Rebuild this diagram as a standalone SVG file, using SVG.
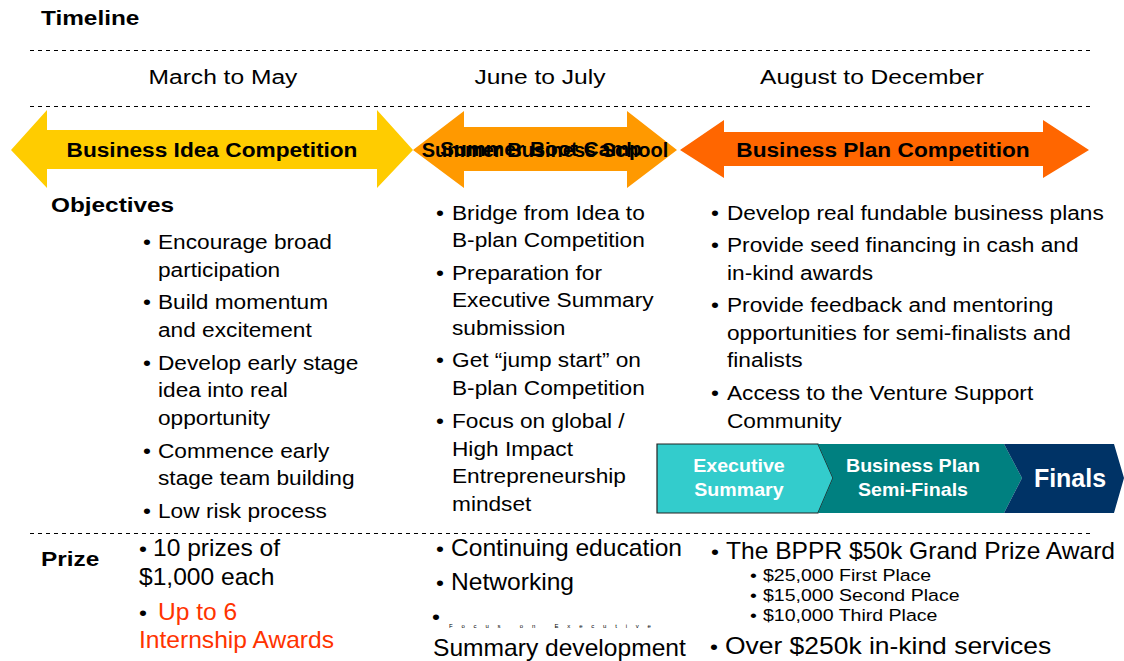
<svg xmlns="http://www.w3.org/2000/svg" width="1124" height="661" viewBox="0 0 1124 661">
<style>
text{font-family:"Liberation Sans",Arial,sans-serif;fill:#000;transform-box:fill-box;transform-origin:left center}
.h{font-weight:bold;font-size:21px;transform:scaleX(1.16)}
.m{font-size:21px;text-anchor:middle;transform:scaleX(1.17);transform-origin:center}
.b{font-size:21px;transform:scaleX(1.08)}
.p{font-size:23px;transform:scaleX(1.07)}
.s{font-size:17px;transform:scaleX(1.15)}
.al{font-weight:bold;font-size:21px;text-anchor:middle;transform:scaleX(1.08);transform-origin:center}
.sl{font-weight:bold;font-size:20px;text-anchor:middle}
.cw{font-weight:bold;font-size:18px;fill:#fff;text-anchor:middle;transform:scaleX(1.09);transform-origin:center}
.dash{stroke:#000;stroke-width:1;stroke-dasharray:4 4;fill:none}
.red{fill:#FF3300}
</style>
<rect width="1124" height="661" fill="#fff"/>
<g id="guides">
<line class="dash" x1="30" y1="50.5" x2="1090" y2="50.5"/>
<line class="dash" x1="30" y1="106.5" x2="1090" y2="106.5"/>
<line class="dash" x1="30" y1="533.5" x2="1090" y2="533.5"/>
</g>
<g id="headers">
<text class="h" x="41" y="25">Timeline</text>
<text class="m" x="223" y="84">March to May</text>
<text class="m" x="540" y="84">June to July</text>
<text class="m" x="872" y="84">August to December</text>
<text class="h" x="51" y="212">Objectives</text>
<text class="h" x="41" y="566">Prize</text>
</g>
<g id="arrow-idea">
<polygon points="11,150 47,110 47,130 377,130 377,110 413,150 377,188 377,169 47,169 47,188" fill="#FFCC00"/>
<text class="al" x="212" y="157">Business Idea Competition</text>
</g>
<g id="arrow-summer">
<polygon points="413,150 464,111 464,127 627,127 627,111 677,150 627,188 627,171 464,171 464,188" fill="#FF9900"/>
<text class="sl" x="545" y="157">Summer Business School</text>
<text class="sl" x="541" y="156" style="font-size:21px">Summer Boot Camp</text>
</g>
<g id="arrow-plan">
<polygon points="680,150 724,120 724,132 1043,132 1043,120 1089,150 1043,178 1043,166 724,166 724,178" fill="#FF6600"/>
<text class="al" x="883" y="157">Business Plan Competition</text>
</g>
<g id="objectives-idea">
<text class="b" x="143" y="249">•</text><text class="b" x="158" y="249">Encourage broad</text>
<text class="b" x="158" y="277">participation</text>
<text class="b" x="143" y="309">•</text><text class="b" x="158" y="309">Build momentum</text>
<text class="b" x="158" y="337">and excitement</text>
<text class="b" x="143" y="370">•</text><text class="b" x="158" y="370">Develop early stage</text>
<text class="b" x="158" y="397">idea into real</text>
<text class="b" x="158" y="425">opportunity</text>
<text class="b" x="143" y="458">•</text><text class="b" x="158" y="458">Commence early</text>
<text class="b" x="158" y="485">stage team building</text>
<text class="b" x="143" y="518">•</text><text class="b" x="158" y="518">Low risk process</text>
</g>
<g id="objectives-summer">
<text class="b" x="436" y="220">•</text><text class="b" x="452" y="220">Bridge from Idea to</text>
<text class="b" x="452" y="247">B-plan Competition</text>
<text class="b" x="436" y="280">•</text><text class="b" x="452" y="280">Preparation for</text>
<text class="b" x="452" y="307">Executive Summary</text>
<text class="b" x="452" y="335">submission</text>
<text class="b" x="436" y="367">•</text><text class="b" x="452" y="367">Get “jump start” on</text>
<text class="b" x="452" y="395">B-plan Competition</text>
<text class="b" x="436" y="428">•</text><text class="b" x="452" y="428">Focus on global /</text>
<text class="b" x="452" y="456">High Impact</text>
<text class="b" x="452" y="483">Entrepreneurship</text>
<text class="b" x="452" y="511">mindset</text>
</g>
<g id="objectives-plan">
<text class="b" x="711" y="220">•</text><text class="b" x="727" y="220">Develop real fundable business plans</text>
<text class="b" x="711" y="252">•</text><text class="b" x="727" y="252">Provide seed financing in cash and</text>
<text class="b" x="727" y="280">in-kind awards</text>
<text class="b" x="711" y="312">•</text><text class="b" x="727" y="312">Provide feedback and mentoring</text>
<text class="b" x="727" y="340">opportunities for semi-finalists and</text>
<text class="b" x="727" y="367">finalists</text>
<text class="b" x="711" y="400">•</text><text class="b" x="727" y="400">Access to the Venture Support</text>
<text class="b" x="727" y="428">Community</text>
</g>
<g id="stage-exec">
<polygon points="657,444 818,444 833,478 818,513 657,513" fill="#33CCCC" stroke="#222" stroke-width="1.2"/>
<text class="cw" x="739" y="472">Executive</text>
<text class="cw" x="739" y="496">Summary</text>
</g>
<g id="stage-semi">
<polygon points="818,444 1004,444 1022,478 1004,513 818,513 833,478" fill="#008080"/>
<text class="cw" x="913" y="472">Business Plan</text>
<text class="cw" x="913" y="496">Semi-Finals</text>
</g>
<g id="stage-finals">
<polygon points="1004,444 1114,444 1124,478 1114,513 1004,513 1022,478" fill="#003366"/>
<text x="1070" y="487" style="font-weight:bold;font-size:25px;fill:#fff;text-anchor:middle">Finals</text>
</g>
<g id="prize-idea">
<text class="b" x="139" y="556">•</text><text class="p" x="153" y="556">10 prizes of</text>
<text class="p" x="139" y="585">$1,000 each</text>
<text class="b" x="139" y="620">•</text><text class="p red" x="158" y="620">Up to 6</text>
<text class="p red" x="139" y="648">Internship Awards</text>
</g>
<g id="prize-summer">
<text class="b" x="436" y="556">•</text><text class="p" x="451" y="556">Continuing education</text>
<text class="b" x="436" y="590">•</text><text class="p" x="451" y="590">Networking</text>
<text class="b" x="432" y="624">•</text><text x="449" y="628" style="font-size:6px;letter-spacing:8.8px">Focus on Executive</text>
<text class="p" x="433" y="656">Summary development</text>
</g>
<g id="prize-plan">
<text class="b" x="711" y="559">•</text><text class="p" x="726" y="559">The BPPR $50k Grand Prize Award</text>
<text class="s" x="750" y="581">•</text><text class="s" x="763" y="581">$25,000 First Place</text>
<text class="s" x="750" y="601">•</text><text class="s" x="763" y="601">$15,000 Second Place</text>
<text class="s" x="750" y="621">•</text><text class="s" x="763" y="621">$10,000 Third Place</text>
<text class="b" x="710" y="654">•</text><text class="p" x="725" y="654" style="transform:scaleX(1.15)">Over $250k in-kind services</text>
</g>
</svg>
